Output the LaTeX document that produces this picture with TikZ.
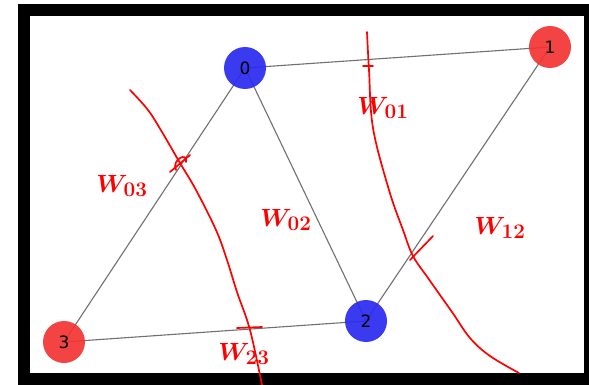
\documentclass[tikz,border=0pt]{standalone}
\usepackage{fontspec}
\setsansfont{DejaVu Sans}
\usetikzlibrary{positioning,backgrounds}
\definecolor{nodeblue}{HTML}{2A2AF0}
\definecolor{nodered}{HTML}{F23434}
\definecolor{edgegray}{HTML}{707070}
\definecolor{pen}{HTML}{FF0000}
\pgfdeclarelayer{frame}
\pgfsetlayers{frame,background,main}

\begin{document}
\begin{tikzpicture}[
    x=1pt, y=-1pt,
    font=\sffamily,
    vtx/.style={circle, minimum size=42pt, inner sep=0pt, fill opacity=0.92,
                text opacity=1, font=\fontsize{17}{20}\sffamily},
    bluevtx/.style={vtx, fill=nodeblue},
    redvtx/.style={vtx, fill=nodered},
    edge/.style={edgegray, line width=1.1pt},
    penline/.style={pen, line width=1.7pt, line cap=round, line join=round},
    wlbl/.style={text=pen, font=\fontsize{29}{33}\selectfont\boldmath, inner sep=0pt}
  ]
  \useasboundingbox (0,0) rectangle (589,385);

  % frame
  \begin{pgfonlayer}{frame}
    \fill[black] (18,4) rectangle (589,385);
    \fill[white] (30,16) rectangle (584,373);
  \end{pgfonlayer}

  % graph
  \node[bluevtx] (n0) at (245,68) {0};
  \node[redvtx] (n1) at (550,47) {1};
  \node[bluevtx] (n2) at (366,321) {2};
  \node[redvtx] (n3) at (64,342) {3};

  \begin{pgfonlayer}{background}
    \draw[edge] (n0.center) -- (n1.center);
    \draw[edge] (n0.center) -- (n2.center);
    \draw[edge] (n0.center) -- (n3.center);
    \draw[edge] (n1.center) -- (n2.center);
    \draw[edge] (n2.center) -- (n3.center);
  \end{pgfonlayer}

  % hand-drawn cuts
  \draw[penline] plot[smooth, tension=0.6] coordinates
    {(130,90) (148,110) (162,132) (180,163) (196,190) (216,230) (227,260)
     (237,292) (250,330) (262,385)};
  \draw[penline] (170,172) -- (190,155);
  \draw[penline] (176,170) .. controls (171,160) and (188,151) .. (186,162);
  \draw[penline] (237,328) -- (262,327);

  \draw[penline] plot[smooth, tension=0.6] coordinates
    {(367,32) (369,70) (373,128) (389,190) (403,230) (413,256) (428,278)
     (452,312) (470,338) (490,356) (519,373)};
  \draw[penline] (363,66) -- (373,66);
  \draw[penline] (433,236) -- (410,260);

  % weights
  \node[wlbl] (w01) at (383,108) {$W_{01}$};
  \node[wlbl] (w03) at (122,186) {$W_{03}$};
  \node[wlbl] (w02) at (286,220) {$W_{02}$};
  \node[wlbl] (w12) at (500,228) {$W_{12}$};
  \node[wlbl] (w23) at (244,354) {$W_{23}$};
\end{tikzpicture}
\end{document}
